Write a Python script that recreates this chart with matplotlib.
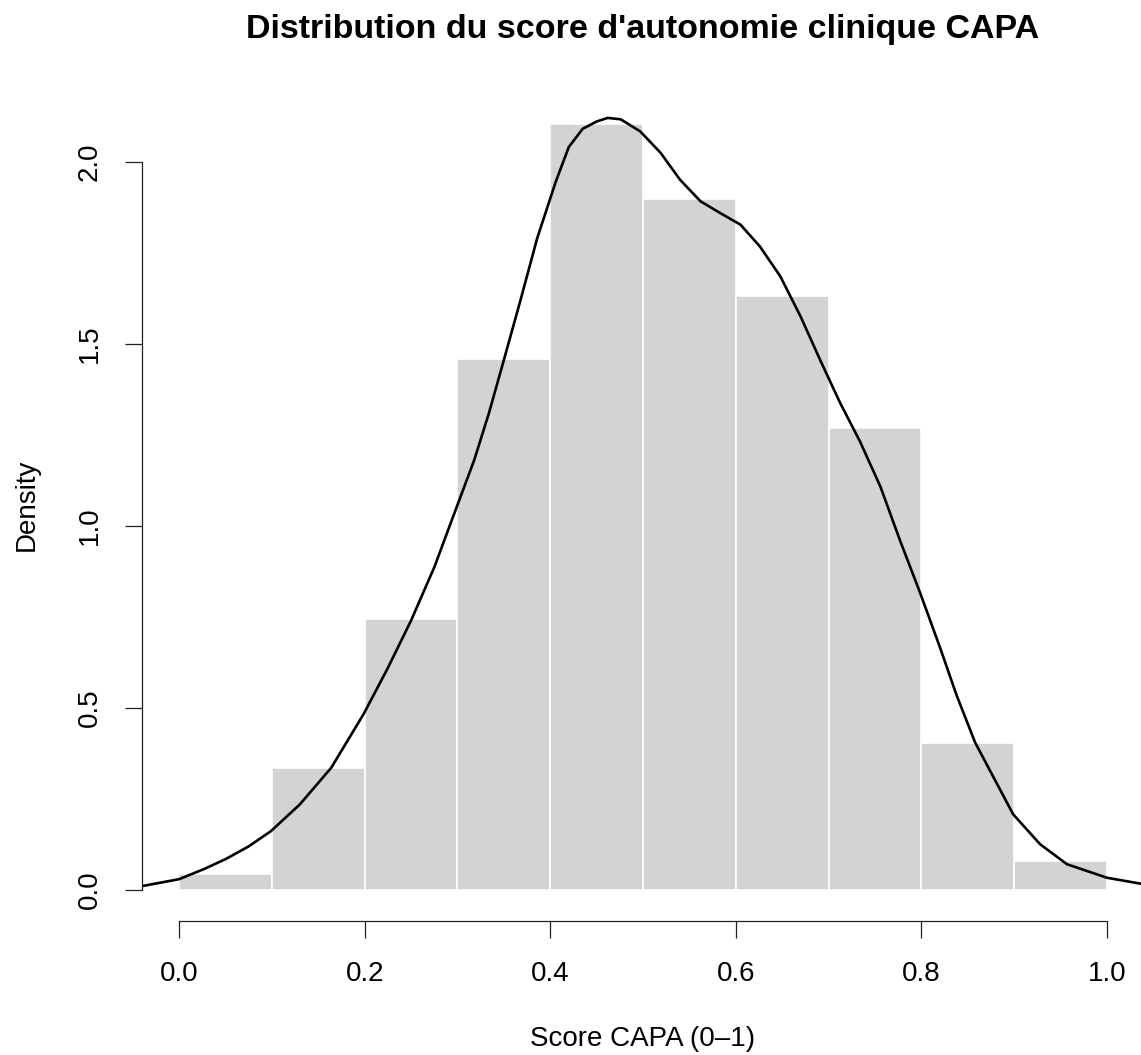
import numpy as np
import matplotlib
matplotlib.use('Agg')
import matplotlib.pyplot as plt

plt.rcParams['font.family'] = ['Liberation Sans', 'DejaVu Sans']

# histogram (density scale), bins of width 0.1
bin_edges = [0.0, 0.1, 0.2, 0.3, 0.4, 0.5, 0.6, 0.7, 0.8, 0.9, 1.0]
bar_density = [0.045, 0.336, 0.743, 1.458, 2.102, 1.898, 1.631, 1.268, 0.404, 0.080]

# kernel density curve
kde_x = [-0.04, 0.0, 0.027, 0.05, 0.075, 0.099, 0.13, 0.164, 0.199, 0.225, 0.25,
         0.275, 0.296, 0.318, 0.334, 0.35, 0.368, 0.386, 0.406, 0.42, 0.435, 0.45,
         0.462, 0.476, 0.497, 0.519, 0.540, 0.562, 0.583, 0.605, 0.626, 0.648,
         0.670, 0.691, 0.712, 0.734, 0.756, 0.777, 0.799, 0.820, 0.838, 0.858,
         0.878, 0.899, 0.928, 0.957, 1.0, 1.04]
kde_y = [0.011, 0.030, 0.058, 0.085, 0.120, 0.162, 0.235, 0.336, 0.484, 0.61, 0.74,
         0.886, 1.03, 1.18, 1.31, 1.455, 1.62, 1.79, 1.945, 2.04, 2.09, 2.11,
         2.12, 2.116, 2.083, 2.024, 1.95, 1.891, 1.859, 1.827, 1.767, 1.685,
         1.574, 1.455, 1.34, 1.231, 1.107, 0.960, 0.814, 0.667, 0.535, 0.405,
         0.309, 0.208, 0.126, 0.071, 0.034, 0.016]

title = "Distribution du score d'autonomie clinique CAPA"
xlabel = "Score CAPA (0\u20131)"
ylabel = "Density"
xticks = [0.0, 0.2, 0.4, 0.6, 0.8, 1.0]
yticks = [0.0, 0.5, 1.0, 1.5, 2.0]

W, H = 1141, 1055
fig = plt.figure(figsize=(W / 100, H / 100), dpi=100)
ax = fig.add_axes([142 / W, (H - 921) / H, (1144 - 142) / W, (921 - 87) / H])
ax.patch.set_visible(False)

left = np.array(bin_edges[:-1])
width = np.diff(bin_edges)
ax.bar(left, bar_density, width=width, align='edge', color='#D3D3D3',
       edgecolor='white', linewidth=1.2)
ax.plot(kde_x, kde_y, color='black', linewidth=1.9, solid_joinstyle='round')

ax.set_xlim(-0.04, 1.04)
ax.set_ylim(-0.0848, 2.2048)

for s in ['top', 'right']:
    ax.spines[s].set_visible(False)
ax.spines['left'].set_bounds(0, 2.0)
ax.spines['bottom'].set_bounds(0, 1.0)
for s in ['left', 'bottom']:
    ax.spines[s].set_linewidth(0.9)
    ax.spines[s].set_color('#222222')

ax.set_xticks(xticks)
ax.set_xticklabels([f'{v:.1f}' for v in xticks])
ax.set_yticks(yticks)
ax.set_yticklabels([f'{v:.1f}' for v in yticks], rotation=90, va='center')
ax.tick_params(axis='both', direction='out', length=12.5, width=0.9,
               color='#222222', labelsize=20, pad=16)

fig.text(643 / W, 1 - 38 / H, title, ha='center', va='baseline',
         fontsize=24.5, fontweight='bold')
fig.text(643 / W, 1 - 1046 / H, xlabel, ha='center', va='baseline', fontsize=20)
fig.text(27 / W, 1 - 505 / H, ylabel, ha='center', va='center', rotation=90,
         fontsize=20)

fig.savefig('out.png', dpi=100)
